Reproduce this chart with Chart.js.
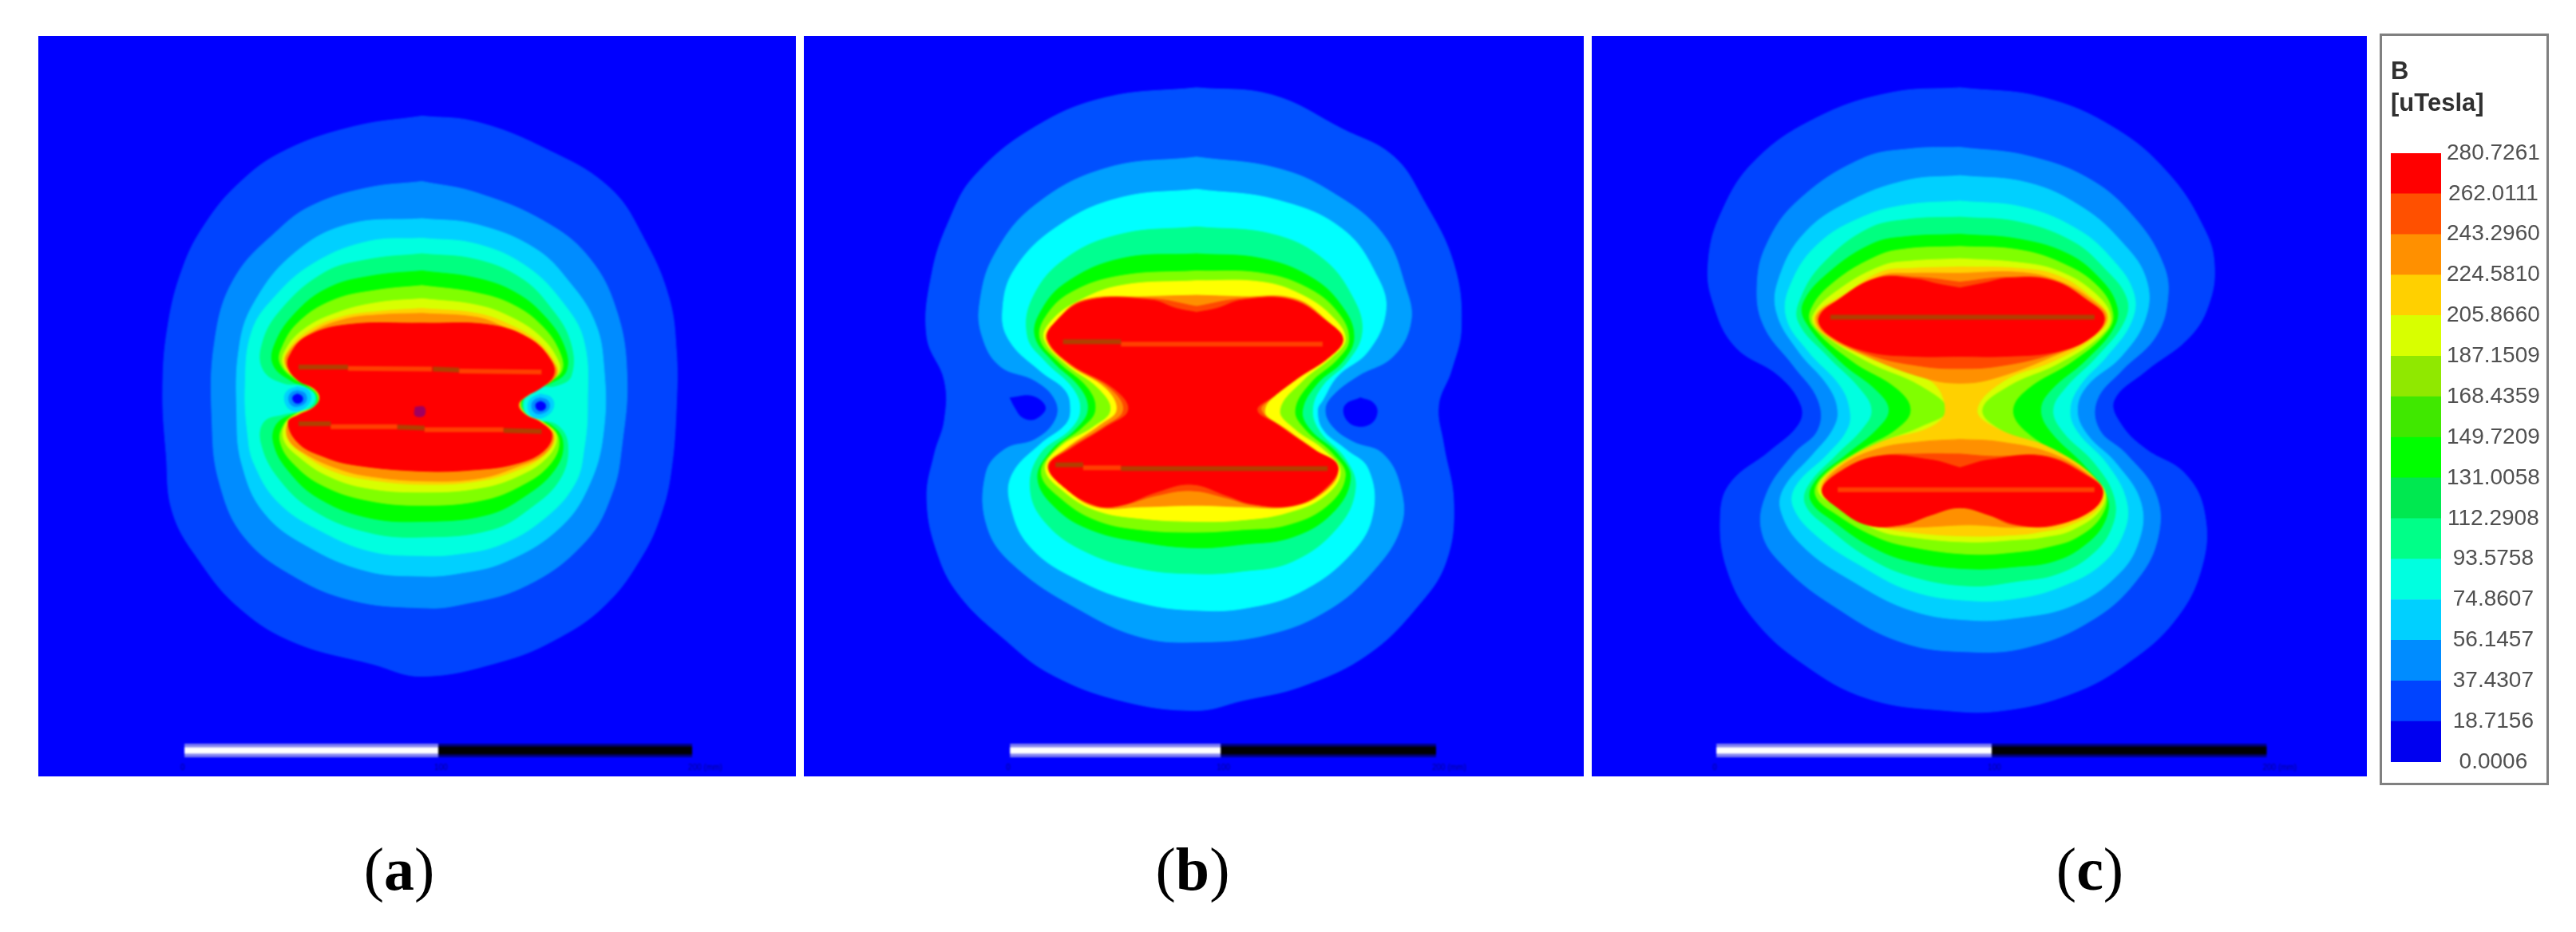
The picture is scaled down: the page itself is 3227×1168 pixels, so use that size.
<!DOCTYPE html>
<html>
<head>
<meta charset="utf-8">
<script src="https://cdn.jsdelivr.net/npm/chart.js@4"></script>
<style>
  html, body { margin: 0; padding: 0; background: #fff; overflow: hidden; }
  .panel { position: absolute; top: 45px; height: 928px; background: #00f; overflow: hidden; }
  .panel canvas { filter: blur(1.2px); }
  .caption { position: absolute; top: 1051px; width: 200px; margin-left: -100px; text-align: center;
    font: 76px/76px "Liberation Serif", serif; color: #000; }
  .caption b { font-weight: bold; }
  #frame { position: absolute; left: 2981px; top: 42px; width: 206px; height: 936px;
    border: 3px solid #808080; background: #fff; }
  #frame canvas { filter: blur(0.6px); }
</style>
</head>
<body>
<div class="panel" style="left:48px;width:949px"><canvas id="panelA"></canvas></div>
<div class="panel" style="left:1007px;width:977px"><canvas id="panelB"></canvas></div>
<div class="panel" style="left:1994px;width:971px"><canvas id="panelC"></canvas></div>
<div id="frame"><canvas id="colorbar"></canvas></div>
<div class="caption" style="left:500px">(<b>a</b>)</div>
<div class="caption" style="left:1494px">(<b>b</b>)</div>
<div class="caption" style="left:2618px">(<b>c</b>)</div>

<script>
// colour scale
const tickValues = [0.0006, 18.7156, 37.4307, 56.1457, 74.8607, 93.5758, 112.2908, 131.0058, 149.7209, 168.4359, 187.1509, 205.866, 224.581, 243.296, 262.0111, 280.7261]
const legendColors = ['#0000f0', '#0044ff', '#008cff', '#00d0ff', '#00ffe0', '#00ff88', '#00e850', '#00ff00', '#40e800', '#90e800', '#d8ff00', '#ffd000', '#ff9000', '#ff5000', '#ff0000']

// panel (a) contours
const a1 = [[790,188],[900,200],[1040,255],[1170,335],[1240,440],[1290,560],[1305,670],[1305,780],[1295,910],[1275,1000],[1235,1090],[1160,1190],[1060,1260],[950,1305],[790,1335],[690,1310],[530,1265],[420,1195],[340,1100],[285,1000],[272,880],[265,750],[275,620],[305,500],[350,410],[420,325],[510,260],[650,210]]
const a2 = [[790,322],[900,345],[1040,405],[1130,480],[1185,590],[1205,720],[1195,860],[1175,960],[1120,1060],[1000,1150],[860,1190],[790,1195],[650,1180],[530,1130],[430,1050],[380,940],[365,820],[370,650],[410,520],[500,420],[570,370],[680,335]]
const a3 = [[790,398],[900,410],[1020,460],[1090,530],[1140,610],[1158,700],[1158,830],[1130,940],[1070,1030],[960,1100],[860,1125],[790,1130],[680,1120],[560,1070],[470,1000],[425,900],[415,800],[420,660],[450,570],[530,470],[640,410]]
const a4 = [[790,438],[900,450],[1000,495],[1075,570],[1118,650],[1125,780],[1118,870],[1100,940],[1040,1010],[950,1065],[860,1085],[790,1088],[690,1080],[590,1040],[500,980],[450,900],[437,840],[432,740],[445,630],[490,560],[570,490],[680,445]]
const a5 = [[790,470],[900,482],[990,520],[1050,580],[1090,650],[1092,720],[1062,740],[1020,745],[995,775],[1010,808],[1062,820],[1085,860],[1070,930],[1010,990],[930,1035],[790,1050],[680,1040],[570,995],[500,930],[465,860],[470,815],[510,800],[555,790],[575,765],[555,740],[510,735],[470,710],[465,660],[500,590],[590,510],[680,482]]
const a6 = [[790,505],[900,520],[980,550],[1040,600],[1078,660],[1082,710],[1050,735],[1015,745],[992,775],[1005,805],[1050,820],[1075,855],[1060,910],[1000,965],[920,1005],[790,1018],[680,1010],[580,970],[520,915],[490,860],[495,820],[530,798],[565,790],[578,765],[560,745],[525,730],[490,700],[490,660],[530,595],[600,540],[690,515]]
const a7 = [[790,535],[900,550],[975,575],[1035,620],[1070,675],[1072,712],[1040,735],[1010,750],[990,775],[1003,800],[1040,818],[1067,850],[1050,900],[990,945],[910,975],[790,985],[680,975],[590,945],[530,900],[503,855],[510,820],[535,797],[570,785],[580,765],[565,745],[530,725],[503,695],[505,665],[540,610],[610,565],[695,545]]
const a8 = [[790,562],[900,575],[970,600],[1030,640],[1066,690],[1066,715],[1035,738],[1005,755],[988,778],[1002,800],[1035,815],[1062,842],[1045,885],[985,925],[905,950],[790,958],[680,950],[600,925],[540,885],[510,850],[515,815],[540,797],[572,783],[582,765],[568,745],[535,725],[510,700],[512,670],[550,625],[620,590],[700,570]]
const a9 = [[790,582],[900,592],[960,612],[1025,650],[1062,700],[1060,720],[1032,742],[1002,760],[987,778],[1000,800],[1032,815],[1058,842],[1040,880],[985,912],[905,935],[790,942],[680,932],[610,915],[550,880],[518,848],[520,815],[545,798],[575,783],[584,765],[570,745],[540,728],[514,700],[517,672],[555,632],[625,600],[705,588]]
const a10 = [[790,592],[900,600],[955,620],[1022,655],[1060,700],[1060,722],[1030,745],[1002,762],[987,778],[1000,800],[1030,817],[1056,842],[1040,878],[985,905],[905,930],[790,935],[680,925],[620,910],[555,880],[520,850],[520,815],[548,800],[575,785],[584,765],[572,745],[542,730],[516,702],[517,675],[560,635],[630,605],[705,595]]
const a11 = [[790,612],[930,616],[1010,645],[1052,690],[1056,720],[1030,745],[1000,762],[985,780],[1000,800],[1030,815],[1053,840],[1035,875],[980,900],[900,912],[790,915],[650,902],[590,885],[540,858],[519,815],[540,800],[570,785],[583,765],[570,745],[540,730],[520,705],[521,680],[555,640],[640,615]]
const aHoleL3 = [[538,742],[560,750],[564,770],[548,788],[525,790],[512,772],[516,752]]
const aHoleL2 = [[538,750],[553,756],[555,772],[540,782],[526,780],[520,766],[526,754]]
const aHoleL0 = [[538,757],[547,762],[547,772],[538,776],[530,772],[529,762]]
const aHoleR3 = [[1030,757],[1052,765],[1056,785],[1040,803],[1017,805],[1005,787],[1010,767]]
const aHoleR2 = [[1030,765],[1045,771],[1047,787],[1032,797],[1018,795],[1012,781],[1018,769]]
const aHoleR0 = [[1030,772],[1039,777],[1039,787],[1030,791],[1022,787],[1021,777]]
const aMarker = [[776,784],[794,784],[794,801],[776,801]]
const aLevels = [a1, a2, a3, a4, a5, a6, a7, a8, a9, a10, a11, aHoleL3, aHoleL2, aHoleL0, aHoleR3, aHoleR2, aHoleR0, aMarker]
const aColors = ['#0044ff', '#008cff', '#00d0ff', '#00ffe0', '#00ff80', '#00ff00', '#80ff00', '#d8ff00', '#ffd000', '#ff9000', '#ff0000', '#00d0ff', '#008cff', '#0000ff', '#00d0ff', '#008cff', '#0000ff', '#a00060']
const aOrange = [[[640,705],[810,706]], [[865,710],[1032,712]], [[605,824],[740,824]], [[795,830],[955,830]]]
const aBrown = [[[540,702],[640,702]], [[812,706],[865,708]], [[540,818],[605,818]], [[740,825],[795,827]], [[955,832],[1032,834]]]
const aBar = [309, 823, 1337]
const aBarLabels = ['0', '100', '200 (mm)']

// panel (b) contours
const b1 = [[790,130],[940,145],[1080,215],[1180,270],[1240,360],[1300,490],[1315,620],[1295,710],[1270,780],[1280,860],[1300,980],[1285,1100],[1230,1190],[1130,1290],[1000,1355],[880,1385],[790,1405],[640,1385],[500,1330],[410,1260],[320,1170],[275,1080],[255,970],[270,880],[290,810],[290,730],[255,640],[265,510],[300,400],[350,310],[470,210],[610,150]]
const b2 = [[790,272],[950,295],[1060,345],[1160,430],[1205,540],[1215,610],[1180,680],[1110,720],[1060,760],[1045,790],[1060,825],[1100,855],[1160,880],[1195,950],[1195,1030],[1140,1120],[1050,1200],[930,1250],[790,1265],[680,1255],[560,1200],[430,1110],[375,1030],[372,920],[410,870],[470,850],[510,810],[510,770],[470,730],[400,700],[365,640],[360,570],[390,470],[470,370],[610,295]]
const b3 = [[790,338],[950,360],[1080,420],[1150,520],[1165,590],[1130,670],[1070,720],[1040,770],[1030,790],[1040,830],[1085,870],[1130,910],[1140,1000],[1100,1080],[1000,1160],[890,1195],[790,1200],[680,1185],[560,1140],[460,1070],[420,980],[425,920],[480,860],[530,820],[540,790],[530,750],[480,710],[420,650],[405,590],[430,500],[520,410],[640,355]]
const b4 = [[790,415],[940,430],[1040,480],[1100,560],[1118,630],[1090,690],[1040,740],[1020,790],[1035,835],[1085,890],[1105,950],[1070,1030],[980,1100],[880,1120],[790,1125],[680,1115],[570,1080],[490,1020],[460,950],[480,880],[540,830],[560,790],[545,745],[490,690],[455,640],[465,560],[530,480],[640,430]]
const b5 = [[790,470],[920,480],[1020,520],[1080,580],[1102,640],[1080,690],[1030,735],[1000,790],[1015,830],[1070,880],[1095,930],[1060,1000],[980,1050],[880,1065],[790,1072],[680,1060],[580,1035],[510,990],[475,930],[500,875],[550,830],[575,790],[560,745],[505,690],[470,640],[480,590],[530,530],[640,480]]
const b6 = [[790,505],[920,510],[1010,540],[1070,590],[1092,645],[1070,685],[1015,735],[985,790],[1005,830],[1060,880],[1085,925],[1050,985],[970,1025],[880,1035],[790,1040],[680,1035],[590,1015],[520,970],[482,920],[510,870],[565,825],[590,790],[575,745],[515,690],[480,645],[490,600],[540,550],[640,515]]
const b7 = [[790,525],[920,528],[1000,555],[1060,600],[1085,645],[1060,680],[1000,730],[955,790],[985,830],[1040,870],[1075,915],[1045,965],[970,1000],[880,1015],[790,1018],[680,1012],[590,995],[525,955],[490,910],[520,865],[585,825],[620,790],[595,745],[530,695],[488,645],[500,610],[550,570],[640,535]]
const b8 = [[790,555],[880,558],[985,562],[1052,610],[1080,645],[1052,678],[990,725],[925,790],[975,835],[1035,880],[1070,915],[1040,960],[975,988],[880,988],[790,985],[680,988],[590,988],[530,950],[495,905],[530,870],[600,820],[632,790],[610,745],[535,695],[492,645],[510,610],[565,565],[690,558]]
const b8Red = [[790,578],[880,562],[980,564],[1050,610],[1080,645],[1054,680],[990,725],[940,765],[918,790],[960,825],[1025,872],[1070,908],[1040,957],[980,986],[900,984],[850,970],[780,955],[710,965],[640,985],[590,986],[530,950],[497,905],[535,870],[605,825],[645,790],[618,745],[538,695],[494,645],[510,610],[568,566],[700,562]]
const b9 = [[790,590],[830,582],[880,565],[980,565],[1050,610],[1080,645],[1055,680],[990,725],[945,760],[910,790],[950,820],[1020,870],[1070,905],[1040,955],[980,985],[900,982],[850,965],[780,942],[710,958],[640,985],[590,985],[530,950],[497,905],[540,870],[610,825],[655,790],[625,745],[540,695],[495,645],[510,610],[570,567],[700,565],[750,582]]
const bHoleL = [[420,765],[465,762],[490,785],[470,808],[445,805],[430,785]]
const bHoleR = [[1115,765],[1140,775],[1148,795],[1135,818],[1105,822],[1085,805],[1085,780]]
const bLevels = [b1, b2, bHoleL, bHoleR, b3, b4, b5, b6, b7, b8, b8Red, b9]
const bColors = ['#0050ff', '#00a0ff', '#0000ff', '#0000ff', '#00ffff', '#00ff90', '#00ff00', '#80ff00', '#ffff00', '#ff9000', '#ff4800', '#ff0000']
const bOrange = [[[640,655],[1040,655]], [[565,908],[640,908]]]
const bBrown = [[[525,650],[640,650]], [[510,902],[565,902]], [[640,910],[1050,910]]]
const bBar = [420, 838, 1265]
const bBarLabels = ['0', '100', '200 (mm)']

// panel (c) contours
const c1 = [[760,130],[930,150],[1080,215],[1190,310],[1260,420],[1280,490],[1270,570],[1230,640],[1140,710],[1075,770],[1090,820],[1140,870],[1220,920],[1260,1000],[1255,1110],[1200,1220],[1100,1310],[990,1370],[850,1405],[730,1405],[570,1380],[440,1310],[340,1220],[285,1120],[270,1010],[290,940],[370,875],[430,820],[435,780],[390,720],[300,660],[255,570],[245,490],[270,390],[340,280],[470,190],[620,140]]
const c2 = [[760,252],[900,270],[1030,320],[1120,400],[1175,490],[1185,560],[1160,640],[1090,710],[1040,770],[1045,830],[1100,880],[1160,960],[1165,1050],[1120,1140],[1030,1220],[900,1275],[780,1285],[640,1265],[500,1190],[400,1110],[355,1040],[365,960],[420,880],[470,830],[470,770],[420,700],[360,620],[345,540],[365,450],[430,360],[560,275],[660,255]]
const c3 = [[760,310],[900,325],[1010,375],[1090,445],[1140,520],[1140,600],[1090,680],[1020,740],[1000,790],[1020,840],[1080,900],[1130,980],[1125,1060],[1080,1130],[990,1190],[880,1215],[780,1220],[660,1200],[540,1140],[440,1070],[395,1000],[400,950],[460,880],[500,830],[510,790],[490,740],[430,670],[385,590],[390,520],[440,430],[530,365],[650,320]]
const c4 = [[760,362],[890,375],[1000,420],[1070,480],[1115,550],[1110,610],[1060,680],[1005,740],[985,790],[1000,835],[1060,900],[1100,975],[1095,1040],[1050,1105],[970,1150],[880,1175],[780,1180],[660,1160],[560,1110],[470,1050],[420,990],[425,945],[490,880],[530,830],[535,790],[515,740],[450,670],[405,600],[415,530],[470,450],[560,395],[650,370]]
const c5 = [[760,395],[880,405],[990,445],[1055,500],[1100,560],[1095,610],[1040,680],[975,745],[950,790],[970,835],[1035,900],[1075,970],[1070,1030],[1030,1085],[960,1125],[880,1140],[780,1150],[660,1130],[570,1090],[490,1030],[445,985],[450,945],[510,880],[560,830],[580,790],[555,745],[490,680],[430,610],[435,560],[480,490],[570,420],[650,400]]
const c6 = [[760,430],[880,440],[980,470],[1045,520],[1080,575],[1075,620],[1020,685],[945,750],[925,790],[945,835],[1015,905],[1060,965],[1055,1020],[1010,1070],[950,1100],[880,1110],[780,1115],[660,1100],[580,1070],[505,1020],[455,975],[465,935],[530,880],[590,830],[615,790],[590,750],[515,690],[445,610],[440,570],[490,510],[580,450],[650,435]]
const c7 = [[760,455],[880,462],[970,490],[1040,535],[1072,590],[1060,630],[990,690],[900,745],[868,790],[895,835],[985,895],[1055,955],[1050,1005],[1000,1050],[940,1070],[880,1080],[780,1085],[660,1070],[590,1050],[510,1005],[465,965],[480,925],[560,870],[630,830],[660,790],[630,745],[540,690],[460,620],[455,585],[500,530],[590,475],[650,460]]
const c8 = [[760,480],[880,488],[960,505],[1035,550],[1068,600],[1045,640],[960,695],[860,740],[805,790],[850,835],[960,880],[1050,945],[1050,990],[990,1035],[930,1050],[880,1055],[780,1060],[660,1050],[590,1035],[515,990],[470,955],[495,915],[590,860],[680,825],[735,790],[680,740],[570,690],[470,625],[460,595],[510,545],[600,495],[660,485]]
const c9 = [[760,497],[880,500],[960,515],[1030,560],[1062,600],[1035,640],[950,690],[850,730],[795,790],[840,830],[950,870],[1045,940],[1048,985],[985,1025],[920,1040],[880,1045],[780,1048],[660,1040],[590,1025],[515,980],[475,950],[510,905],[600,855],[700,825],[730,790],[700,730],[580,685],[475,630],[465,595],[520,555],[600,507],[660,500]]
const c10Top = [[760,510],[880,508],[960,525],[1030,565],[1060,600],[1030,640],[950,680],[830,725],[760,735],[690,725],[570,680],[480,630],[468,595],[520,560],[600,515],[660,510]]
const c10Bottom = [[760,850],[840,855],[950,880],[1040,935],[1050,955],[1040,985],[975,1020],[880,1030],[780,1025],[660,1030],[580,1025],[515,985],[478,955],[510,910],[590,870],[680,855]]
const c11Top = [[760,528],[860,518],[950,525],[1020,570],[1055,600],[1030,640],[950,675],[840,700],[760,705],[680,700],[570,675],[485,630],[472,600],[520,565],[590,520],[670,518]]
const c11Bottom = [[760,880],[830,885],[940,885],[1030,930],[1048,955],[1035,985],[960,1025],[870,1025],[820,1005],[760,985],[700,1005],[640,1025],[560,1020],[510,985],[480,955],[515,915],[590,885],[680,880]]
const c12Top = [[760,540],[810,530],[860,520],[950,525],[1020,565],[1055,600],[1030,640],[960,670],[850,680],[760,680],[670,680],[570,670],[490,635],[472,600],[510,565],[590,520],[670,522],[715,532]]
const c12Bottom = [[760,908],[820,892],[930,885],[1020,925],[1052,955],[1030,995],[950,1025],[880,1025],[820,1005],[760,990],[700,1005],[640,1025],[570,1025],[510,990],[478,955],[510,920],[590,885],[700,892]]
const cLevels = [c1, c2, c3, c4, c5, c6, c7, c8, c9, c10Top, c10Bottom, c11Top, c11Bottom, c12Top, c12Bottom]
const cColors = ['#0044ff', '#008cff', '#00d0ff', '#00ffe0', '#00ff80', '#00ff00', '#80ff00', '#d8ff00', '#ffd000', '#ff9000', '#ff9000', '#ff4800', '#ff4800', '#ff0000', '#ff0000']
const cOrange = [[[510,953],[1035,953]]]
const cBrown = [[[495,600],[1035,600]]]
const cBar = [262, 825, 1387]
const cBarLabels = ['0', '100', '200 (mm)']

// tiny text under the scale bar
const barLabelPlugin = {
  id: 'barLabels',
  afterDatasetsDraw(chart, args, opts) {
    const c = chart.ctx
    c.save()
    c.fillStyle = '#000090'
    c.font = '10px "Liberation Sans"'
    c.textAlign = 'left'
    opts.positions.forEach((p, i) => {
      c.fillText(opts.labels[i], chart.scales.x.getPixelForValue(p) - 5, chart.scales.y.getPixelForValue(1527))
    })
    c.restore()
  }
}

function contourSet(pts, color) {
  return { data: pts.concat([pts[0]]), showLine: true, fill: 'shape', tension: 0.4, pointRadius: 0,
    backgroundColor: color, borderColor: color, borderWidth: 1 }
}
function barSet(pts, color, width) {
  return { data: pts, showLine: true, fill: false, pointRadius: 0, borderColor: color, borderWidth: width }
}

function dibujarPanel(id, w, levels, colors, orange, brown, bar, barLabels, xMin, xMax) {
  const sets = []
  levels.forEach((l, i) => sets.push(contourSet(l, colors[i])))
  orange.forEach(s => sets.push(barSet(s, '#ff4000', 6)))
  brown.forEach(s => sets.push(barSet(s, '#b04000', 6)))
  // scale bar, halo then core
  sets.push(barSet([[bar[0], 1487], [bar[1], 1487]], '#8080f0', 17))
  sets.push(barSet([[bar[1], 1487], [bar[2], 1487]], '#000080', 17))
  sets.push(barSet([[bar[0], 1487], [bar[1], 1487]], '#ffffff', 8))
  sets.push(barSet([[bar[1], 1487], [bar[2], 1487]], '#000000', 10))
  sets.forEach((s, i) => { s.order = sets.length - i })

  const cv = document.getElementById(id)
  cv.width = w
  cv.height = 928
  new Chart(cv.getContext('2d'), {
    type: 'scatter',
    data: { datasets: sets },
    plugins: [barLabelPlugin],
    options: {
      responsive: false,
      animation: false,
      layout: { padding: 0 },
      plugins: {
        legend: { display: false },
        tooltip: { enabled: false },
        barLabels: { positions: bar, labels: barLabels }
      },
      scales: {
        x: { display: false, min: xMin, max: xMax },
        y: { display: false, reverse: true, min: 24, max: 1540 }
      }
    }
  })
}

function dibujarEscala() {
  const cv = document.getElementById('colorbar')
  cv.width = 206
  cv.height = 936
  const sets = legendColors.map((col, i) => ({
    data: [tickValues[i + 1] - tickValues[i]],
    backgroundColor: col,
    barPercentage: 1,
    categoryPercentage: 1
  }))
  new Chart(cv.getContext('2d'), {
    type: 'bar',
    data: { labels: ['B'], datasets: sets },
    options: {
      responsive: false,
      animation: false,
      layout: { padding: { left: 11, right: 0, top: 0, bottom: 26 } },
      plugins: {
        legend: { display: false },
        tooltip: { enabled: false },
        title: {
          display: true,
          text: ['B', '[uTesla]'],
          align: 'start',
          color: '#303030',
          font: { family: '"Liberation Sans"', size: 31, weight: 'bold', lineHeight: 1.29 },
          padding: { top: 25, bottom: 42 }
        }
      },
      scales: {
        x: { stacked: true, display: false },
        y: {
          stacked: true,
          position: 'right',
          min: tickValues[0],
          max: tickValues[tickValues.length - 1],
          grid: { display: false, drawTicks: false },
          border: { display: false },
          afterFit: s => { s.width = 132 },
          afterBuildTicks: ax => { ax.ticks = tickValues.map(v => ({ value: v })) },
          ticks: {
            autoSkip: false,
            crossAlign: 'center',
            padding: 7,
            color: '#505050',
            font: { family: '"Liberation Sans"', size: 28 },
            callback: v => v.toFixed(4)
          }
        }
      }
    }
  })
}

window.onload = function () {
  dibujarPanel('panelA', 949, aLevels, aColors, aOrange, aBrown, aBar, aBarLabels, 13, 1547)
  dibujarPanel('panelB', 977, bLevels, bColors, bOrange, bBrown, bBar, bBarLabels, 11, 1558)
  dibujarPanel('panelC', 971, cLevels, cColors, cOrange, cBrown, cBar, cBarLabels, 7, 1592)
  dibujarEscala()
}
</script>
</body>
</html>
